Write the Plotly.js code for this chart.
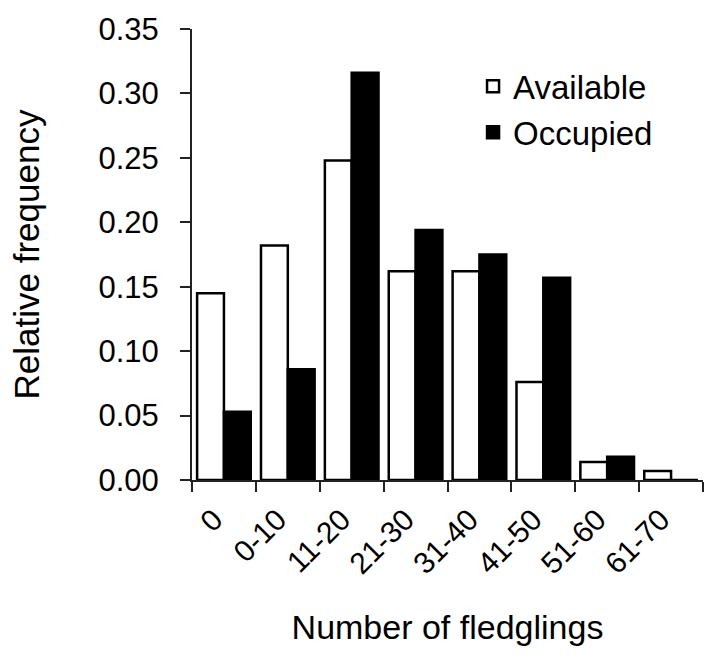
<!DOCTYPE html>
<html>
<head>
<meta charset="utf-8">
<script src="https://cdn.plot.ly/plotly-3.0.1.min.js"></script>
<style>
  html, body { margin: 0; padding: 0; background: white; }
  #chart { width: 718px; height: 665px; }
</style>
</head>
<body>
<div id="chart"></div>
<script>
var categories = ["0", "0-10", "11-20", "21-30", "31-40", "41-50", "51-60", "61-70"];
var available = [0.145, 0.182, 0.248, 0.162, 0.162, 0.076, 0.014, 0.007];
var occupied = [0.053, 0.086, 0.316, 0.194, 0.175, 0.157, 0.018, 0];

var font = "Liberation Sans, Arial, sans-serif";

var trace1 = {
    name: "Available",
    x: categories,
    y: available,
    type: "bar",
    marker: { color: "white", line: { color: "black", width: 2.5 } }
};
var trace2 = {
    name: "Occupied",
    x: categories,
    y: occupied,
    type: "bar",
    marker: { color: "black", line: { color: "black", width: 2.5 } }
};

var layout = {
    width: 718,
    height: 665,
    margin: { l: 192, r: 15, t: 29, b: 185 },
    paper_bgcolor: "white",
    plot_bgcolor: "white",
    font: { family: font, color: "black", size: 31 },
    barmode: "group",
    bargap: 0.16,
    bargroupgap: 0,
    showlegend: true,
    legend: {
        x: 0.55, y: 0.935, xanchor: "left", yanchor: "top",
        font: { size: 33 },
        bgcolor: "rgba(0,0,0,0)"
    },
    xaxis: {
        type: "category",
        tickangle: -45,
        ticks: "outside",
        tickson: "boundaries",
        ticklen: 10,
        tickwidth: 2,
        tickcolor: "#222",
        showline: true,
        linecolor: "#222",
        linewidth: 2,
        showgrid: false,
        automargin: true,
        ticklabelstandoff: 8,
        ticklabelshift: -10,
        tickfont: { size: 30 },
        title: { text: "Number of fledglings", font: { size: 34 }, standoff: 36 }
    },
    yaxis: {
        range: [0, 0.35],
        dtick: 0.05,
        tickformat: ".2f",
        ticks: "outside",
        ticklen: 10,
        tickwidth: 2,
        tickcolor: "#222",
        showline: true,
        linecolor: "#222",
        linewidth: 2,
        showgrid: false,
        zeroline: false,
        automargin: true,
        ticklabelstandoff: 15,
        tickfont: { size: 31 },
        title: { text: "Relative frequency", font: { size: 35 }, standoff: 48 }
    }
};

Plotly.newPlot("chart", [trace1, trace2], layout, { displayModeBar: false });
</script>
</body>
</html>
